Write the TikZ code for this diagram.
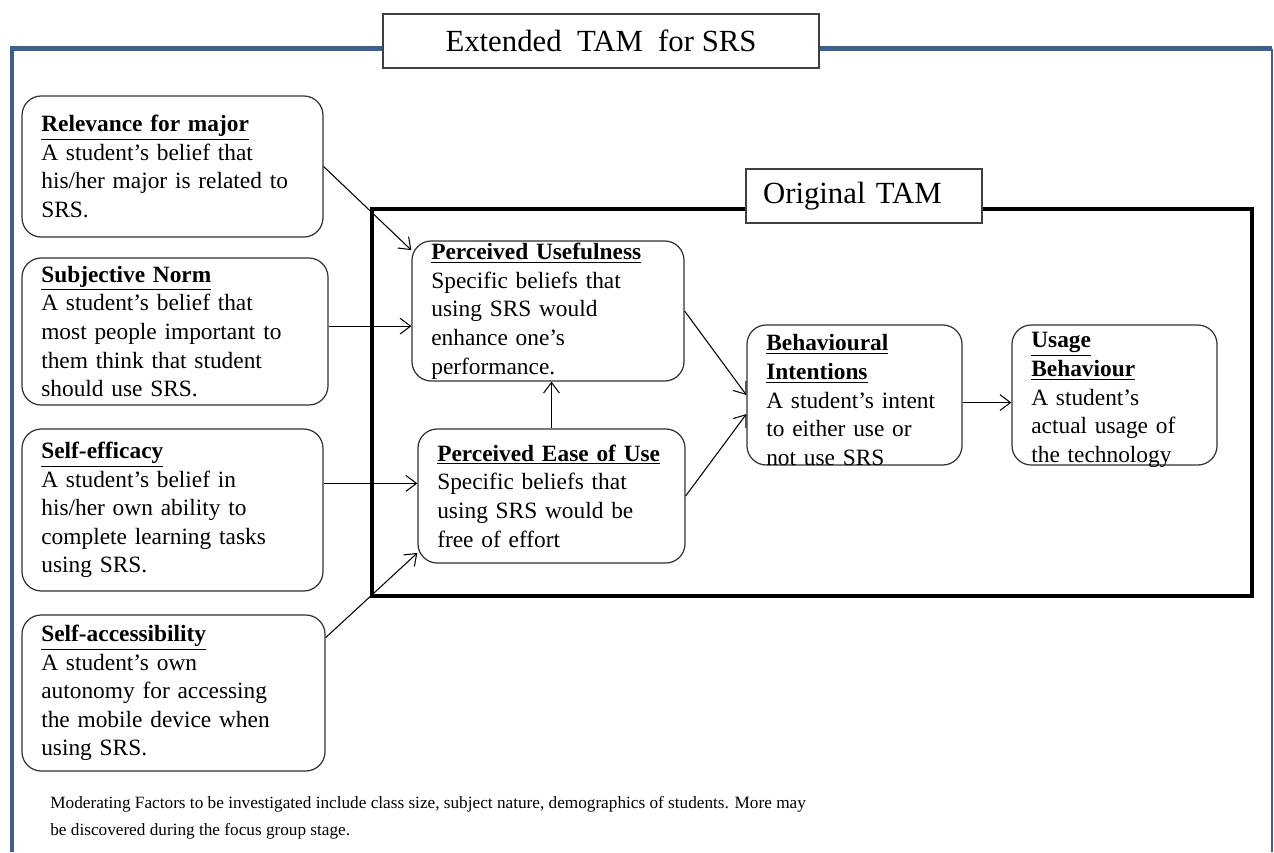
\documentclass[tikz,border=0pt]{standalone}
\usepackage{fontspec}
\setmainfont{Liberation Serif}
\usetikzlibrary{arrows.meta}
\definecolor{frameblue}{RGB}{62,96,142}
\newcommand{\factorhead}[1]{\underline{\textbf{#1}}}
\tikzset{
  factor/.style={draw=black!80, line width=0.7pt, rounded corners=11pt, align=left,
    inner xsep=11pt, inner ysep=0pt, font=\fontsize{13.3}{16.3}\selectfont},
  titlebox/.style={draw=black!75, line width=0.8pt, fill=white, inner sep=0pt,
    minimum height=30.7pt, font=\fontsize{17.5}{20}\selectfont},
  link/.style={->, line width=0.6pt}
}
\begin{document}
\begin{tikzpicture}[x=0.02cm, y=-0.02cm, >={Straight Barb[length=6pt,width=9pt]}]
\useasboundingbox (0,0) rectangle (1274,852);
% outer frame (extended model)
\draw[frameblue, line width=2.6pt] (12,852) |- (1272,48.5);
\draw[frameblue, line width=1pt] (1272,48.5) -- (1272,852);
\node[titlebox, minimum width=248pt] (ext) at (601,41) {Extended\ \ TAM\ \ for SRS};
% inner frame (original model)
\draw[line width=2.3pt] (372,209) rectangle (1252,596);
\node[titlebox, text width=114.9pt, inner xsep=9.7pt, align=left] (orig) at (864,196) {Original TAM};

% external factors
\node[factor, text width=149.3pt, minimum height=80.3pt] (rel) at (172.5,166.5)
  {\factorhead{Relevance for major}\\ A student’s belief that\\ his/her major is related to\\ SRS.};
\node[factor, text width=152.2pt, minimum height=83.7pt] (subj) at (175,331.5)
  {\factorhead{Subjective Norm}\\ A student’s belief that\\ most people important to\\ them think that student\\ should use SRS.};
\node[factor, text width=149.3pt, minimum height=92.2pt] (eff) at (172.5,510)
  {\factorhead{Self-efficacy}\\ A student’s belief in\\ his/her own ability to\\ complete learning tasks\\ using SRS.};
\node[factor, text width=150.5pt, minimum height=88.8pt] (acc) at (173.5,693)
  {\factorhead{Self-accessibility}\\ A student’s own\\ autonomy for accessing\\ the mobile device when\\ using SRS.};

% TAM constructs
\node[factor, text width=132.8pt, minimum height=79.7pt] (PU) at (548,311)
  {\factorhead{Perceived Usefulness}\\ Specific beliefs that\\ using SRS would\\ enhance one’s\\ performance.};
\node[factor, text width=130pt, minimum height=76.3pt] (PEU) at (551.5,496)
  {\factorhead{Perceived Ease of Use}\\ Specific beliefs that\\ using SRS would be\\ free of effort};
\node[factor, text width=100.4pt, minimum height=79.7pt, text depth=59.5pt] (BI) at (854.5,395)
  {\factorhead{Behavioural}\\ \factorhead{Intentions}\\ A student’s intent\\ to either use or\\ not use SRS};
\node[factor, text width=94.7pt, minimum height=79.7pt, text depth=62.4pt] (UB) at (1114.5,395)
  {\factorhead{Usage}\\ \factorhead{Behaviour}\\ A student’s\\ actual usage of\\ the technology};

% links
\draw[link] (rel.east) -- (PU.156);
\draw[link] (subj.2) -- (subj.2 -| PU.west);
\draw[link] (eff.10) -- (eff.10 -| PEU.west);
\draw[link] (acc.20) -- (PEU.203);
\draw[link] (PEU.north) -- (PEU.north |- PU.south);
\draw[link] (PU.east) -- (BI.west);
\draw[link] (PEU.east) -- (BI.190);
\draw[link] (BI.-4) -- (BI.-4 -| UB.west);

\node[anchor=north west, inner sep=0pt, align=left, font=\fontsize{9.8}{15.4}\selectfont] (note) at (50,796)
  {Moderating Factors to be investigated include class size, subject nature, demographics of students. More may\\ be discovered during the focus group stage.};
\end{tikzpicture}
\end{document}
